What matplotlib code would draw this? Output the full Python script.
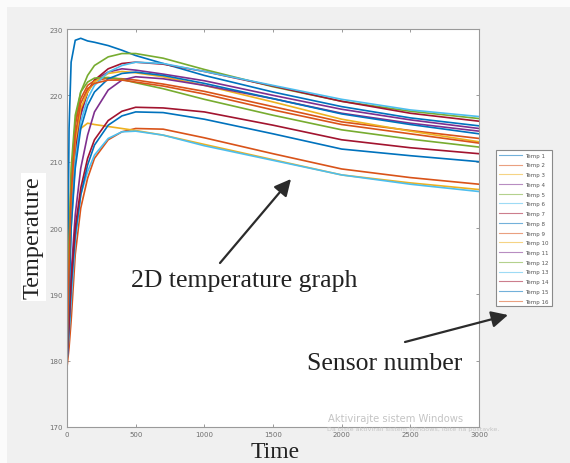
import matplotlib
matplotlib.use("Agg")
import matplotlib.pyplot as plt
from matplotlib.patches import Rectangle
import numpy as np

t = [0, 15, 30, 60, 100, 150, 200, 300, 400, 500, 700, 1000, 1500, 2000, 2500, 3000]

temp1 = [181, 215, 225, 228.3, 228.6, 228.2, 228.0, 227.5, 226.8, 226.0, 224.8, 223.0, 220.5, 218.3, 216.6, 215.4]
temp2 = [179, 182, 186, 196, 203, 207.5, 210.5, 213.3, 214.5, 215.0, 214.9, 213.6, 211.2, 208.9, 207.6, 206.6]
temp3 = [180, 195, 205, 212, 215.0, 215.8, 215.6, 215.3, 215.0, 214.7, 214.0, 212.6, 210.3, 208.0, 206.8, 205.8]
temp4 = [180, 191, 202, 211, 217, 220.5, 222.3, 223.5, 224.0, 223.8, 223.2, 222.2, 220.0, 217.9, 216.3, 215.0]
temp5 = [181, 195, 207, 216, 220.5, 223, 224.5, 225.8, 226.3, 226.3, 225.6, 223.9, 221.3, 219.1, 217.6, 216.5]
temp6 = [180, 184, 189, 198, 205, 208.5, 211.0, 213.5, 214.5, 214.6, 214.0, 212.4, 210.2, 208.0, 206.6, 205.5]
temp7 = [180, 192, 203, 212, 217.5, 220.5, 222.3, 224.0, 224.8, 225.0, 224.7, 223.6, 221.4, 219.1, 217.3, 216.1]
temp8 = [180, 185, 191, 199, 205, 209.5, 212.5, 215.5, 216.9, 217.5, 217.4, 216.4, 214.2, 211.9, 210.9, 210.0]
temp9 = [181, 196, 207, 215.5, 219.5, 221.5, 222.2, 222.6, 222.5, 222.3, 221.7, 220.6, 218.3, 216.0, 214.7, 213.5]
temp10 = [180, 193, 204, 213, 218, 220.5, 222, 223.3, 223.6, 223.4, 222.8, 221.5, 219.0, 216.4, 214.6, 213.0]
temp11 = [180, 186, 193, 202, 209, 214, 217.5, 220.8, 222.3, 222.8, 222.5, 221.5, 219.5, 217.3, 215.8, 214.6]
temp12 = [181, 197, 209, 217, 220.5, 222.0, 222.6, 222.7, 222.4, 221.9, 221.0, 219.4, 217.0, 214.8, 213.4, 212.2]
temp13 = [180, 190, 200, 210, 216, 219.5, 221.5, 223.5, 224.5, 225.0, 224.8, 223.6, 221.5, 219.4, 217.8, 216.8]
temp14 = [180, 186, 192, 200, 206, 210.5, 213.3, 216.2, 217.6, 218.2, 218.1, 217.5, 215.5, 213.3, 212.1, 211.2]
temp15 = [180, 190, 200, 209, 215, 218.5, 220.5, 222.5, 223.3, 223.5, 223.0, 221.8, 219.5, 217.2, 215.6, 214.2]
temp16 = [180, 194, 205, 214, 218.8, 221.0, 221.8, 222.3, 222.3, 222.0, 221.4, 220.2, 217.8, 215.6, 214.2, 212.8]

series = [temp1, temp2, temp3, temp4, temp5, temp6, temp7, temp8,
          temp9, temp10, temp11, temp12, temp13, temp14, temp15, temp16]
labels = [f"Temp {i}" for i in range(1, 17)]

# MATLAB default colour order
colors = ["#0072BD", "#D95319", "#EDB120", "#7E2F8E", "#77AC30", "#4DBEEE", "#A2142F"]

W, H = 570, 464
fig = plt.figure(figsize=(W / 100, H / 100), dpi=100, facecolor="#fbfbfb")
fig.patches.append(Rectangle((7 / W, 0), 1, 1 - 8 / H, transform=fig.transFigure,
                             facecolor="#f0f0f0", edgecolor="none", zorder=-10))

def fx(px):
	return px / W

def fy(py):
	return 1 - py / H

ax = fig.add_axes([fx(67), fy(428), (479 - 67) / W, (428 - 30) / H])
ax.set_facecolor("white")

for i, s in enumerate(series):
	ax.plot(t, s, color=colors[i % 7], lw=1.2, label=labels[i])

ax.set_xlim(0, 3000)
ax.set_ylim(170, 230)
ax.set_xticks(np.arange(0, 3001, 500))
ax.set_yticks(np.arange(170, 231, 10))
ax.tick_params(direction="in", length=2.5, width=0.6, colors="#8a8a8a",
               labelcolor="#6e6e6e", labelsize=5, pad=3, top=True, right=True)
for sp in ax.spines.values():
	sp.set_color("#9a9a9a")
	sp.set_linewidth(0.8)

serif = "Liberation Serif"
ax.set_ylabel("Temperature", family=serif, fontsize=17.5, color="#222222",
              bbox=dict(facecolor="white", edgecolor="none", pad=1.5))
ax.yaxis.set_label_coords((44 - 67) / 412, (428 - 238) / 398)
ax.set_xlabel("Time", family=serif, fontsize=17, color="#222222", va="baseline")
ax.xaxis.set_label_coords((275 - 67) / 412, (428 - 458) / 398)

leg = fig.legend(loc="upper left", bbox_to_anchor=(fx(496), fy(151)), fontsize=4,
                 frameon=True, fancybox=False, edgecolor="#8a8a8a", framealpha=1,
                 handlelength=4.2, labelspacing=0.85, borderpad=0.5, borderaxespad=0,
                 handletextpad=0.6, labelcolor="#555555")
leg.get_frame().set_linewidth(0.8)
for ln in leg.get_lines():
	ln.set_linewidth(0.8)
	ln.set_alpha(0.55)

fig.text(fx(131), fy(287), "2D temperature graph", family=serif, fontsize=18.5,
         color="#222222", va="baseline", ha="left")
fig.text(fx(307), fy(370), "Sensor number", family=serif, fontsize=18.5,
         color="#222222", va="baseline", ha="left")

arrow = dict(arrowstyle="-|>,head_length=1.0,head_width=0.5", color="#2b2b2b", lw=1.6,
             shrinkA=0, shrinkB=0)
ax.annotate("", xy=(fx(291), fy(180)), xytext=(fx(220), fy(264)),
            xycoords="figure fraction", textcoords="figure fraction", arrowprops=arrow)
ax.annotate("", xy=(fx(508), fy(316)), xytext=(fx(405), fy(343)),
            xycoords="figure fraction", textcoords="figure fraction", arrowprops=arrow,
            annotation_clip=False)

fig.text(fx(328), fy(419), "Aktivirajte sistem Windows", family="DejaVu Sans",
         fontsize=7.2, color="#c4c4c4", va="center", ha="left")
fig.text(fx(327), fy(430), "Da biste aktivirali sistem Windows, idite na postavke.",
         family="DejaVu Sans", fontsize=4.6, color="#c4c4c4", va="center", ha="left")

fig.savefig("out.png", dpi=100, facecolor=fig.get_facecolor())
